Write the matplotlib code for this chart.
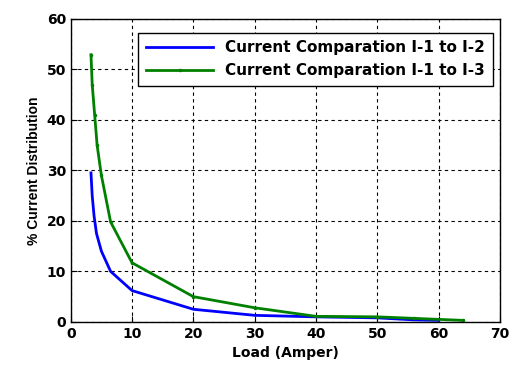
import matplotlib
matplotlib.use("Agg")
import matplotlib.pyplot as plt

plt.rcParams['font.family'] = ['DejaVu Sans']
plt.rcParams['font.weight'] = 'bold'

load_12 = [3.3, 3.5, 3.8, 4.2, 5, 6.5, 10, 20, 30, 40, 50, 56, 60]
dist_12 = [29.5, 25, 21, 17.5, 14, 10, 6.2, 2.5, 1.3, 1.0, 0.8, 0.4, 0.3]
load_13 = [3.3, 3.5, 3.9, 4.3, 5, 6.5, 10, 20, 30, 40, 50, 56, 64]
dist_13 = [52.9, 47, 41, 35, 29, 19.8, 11.7, 5, 2.8, 1.1, 1.0, 0.7, 0.3]
labels = ["Current Comparation I-1 to I-2", "Current Comparation I-1 to I-3"]

fig = plt.figure(figsize=(5.09, 3.70), dpi=100)
ax = fig.add_axes([0.139, 0.130, 0.843, 0.819])

ax.plot(load_12, dist_12, color='#0000ff', lw=2, label=labels[0])
ax.plot(load_13, dist_13, color='#008000', lw=2, marker='.', markersize=3, label=labels[1])

ax.set_xlim(0, 70)
ax.set_ylim(0, 60)
ax.set_xticks(range(0, 71, 10))
ax.set_yticks(range(0, 61, 10))
ax.grid(True, color='black', linestyle=(0, (3, 3)), linewidth=0.8)
ax.tick_params(direction='in', labelsize=10, length=4)
for s in ax.spines.values():
    s.set_linewidth(1)

ax.set_xlabel("Load (Amper)", fontsize=10, fontweight='bold')
ax.set_ylabel("% Current Distribution", fontsize=10, fontweight='bold',
              family='Liberation Sans')

leg = ax.legend(loc='upper right', fontsize=11, fancybox=False, framealpha=1,
                edgecolor='black', handlelength=4.4, borderpad=0.5,
                labelspacing=0.5, borderaxespad=0,
                bbox_to_anchor=(0.984, 0.954))
leg.get_frame().set_linewidth(1)

fig.savefig("out.png", dpi=100)
